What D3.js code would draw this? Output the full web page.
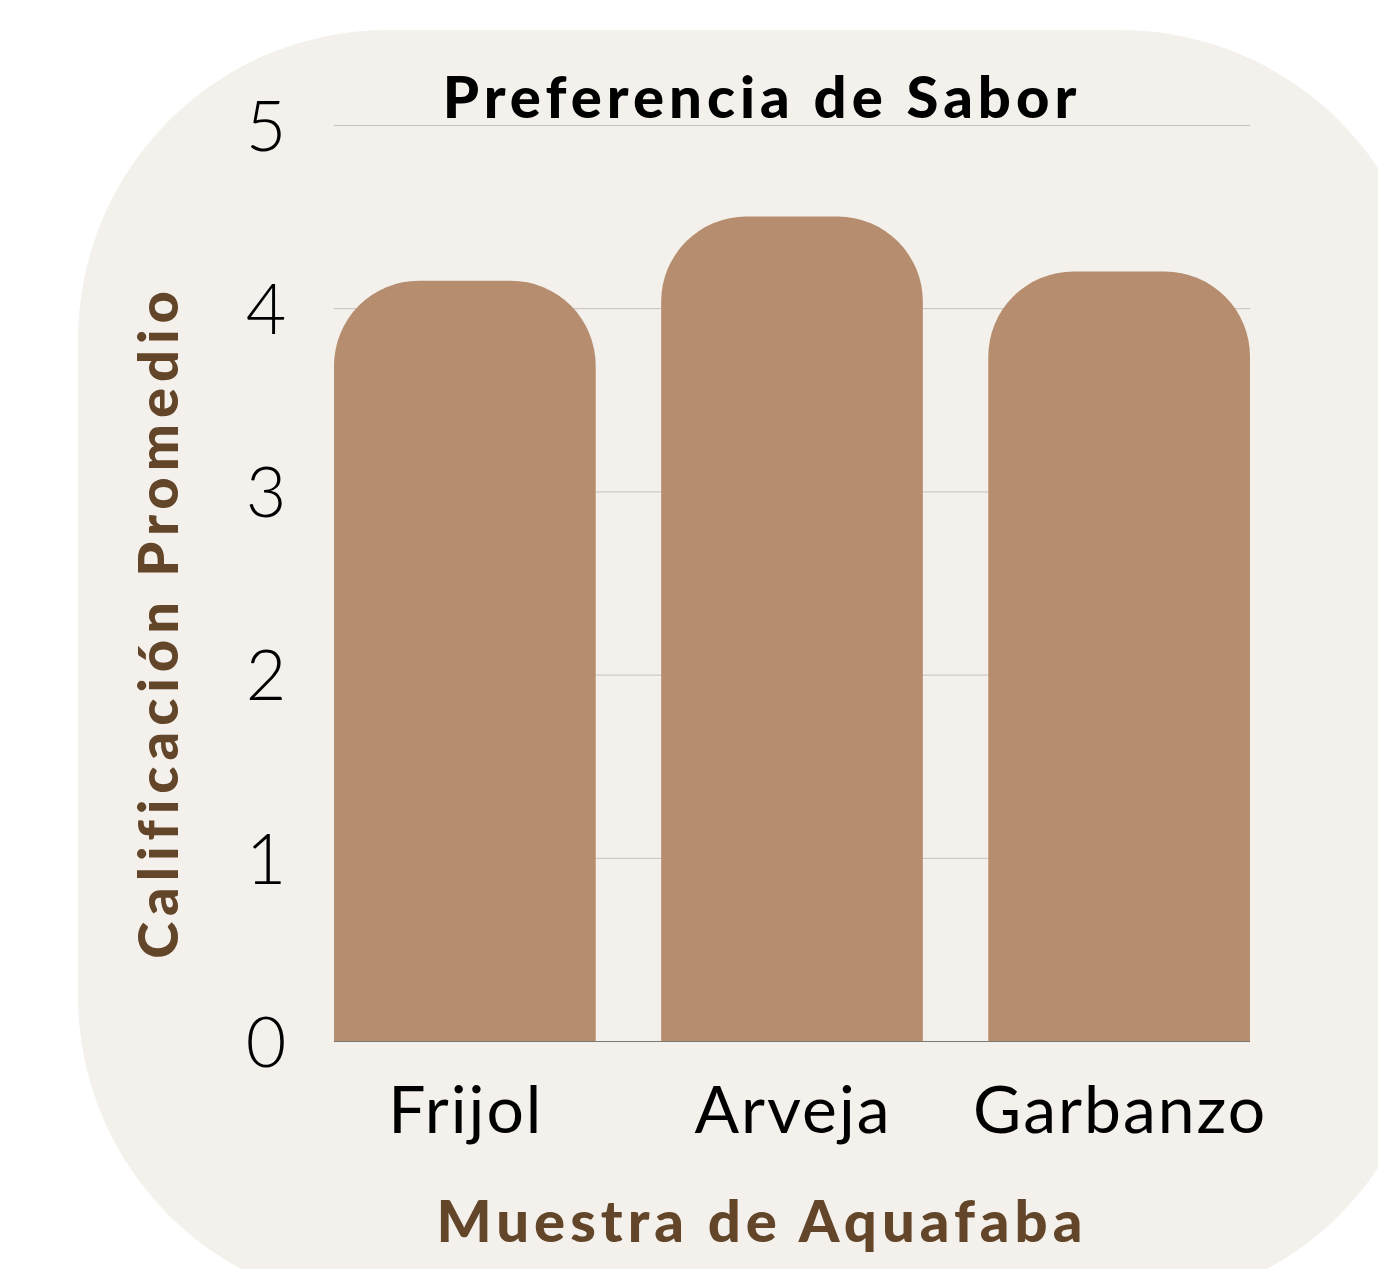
<!DOCTYPE html>
<html>
<head>
<meta charset="utf-8">
<script src="https://cdn.jsdelivr.net/npm/d3@7"></script>
<style>
  html, body { margin: 0; padding: 0; background: #fff; }
  svg { display: block; }
</style>
</head>
<body>
<svg id="chart"></svg>
<script>
(function () {

  var width = 1378, height = 1269;

  // data
  var categories = ['Frijol', 'Arveja', 'Garbanzo'];
  var values = [4.15, 4.50, 4.20];
  var yTicks = [0, 1, 2, 3, 4, 5];

  var svg = d3.select('#chart')
    .attr('width', width)
    .attr('height', height);

  // card background
  svg.append('rect')
    .attr('x', 78).attr('y', 30)
    .attr('width', 1352).attr('height', 1276)
    .attr('rx', 310).attr('ry', 310)
    .attr('fill', '#f4f1ec');

  var margin = { left: 334, right: 128, top: 125, bottom: 228 };

  var x = d3.scaleBand()
    .domain(categories)
    .range([margin.left, width - margin.right])
    .paddingInner(0.2)
    .paddingOuter(0);

  var y = d3.scaleLinear()
    .domain([0, 5])
    .range([height - margin.bottom, margin.top]);

  // gridlines
  var grid = svg.append('g')
    .attr('transform', 'translate(' + margin.left + ',0)')
    .call(d3.axisLeft(y).tickValues(yTicks.slice(1))
      .tickSize(-(width - margin.right - margin.left)).tickFormat(''));
  grid.select('.domain').remove();
  grid.selectAll('line').attr('stroke', '#c4c0ba').attr('stroke-width', 1);

  // baseline
  svg.append('line')
    .attr('x1', margin.left).attr('x2', width - margin.right)
    .attr('y1', y(0) + 0.5).attr('y2', y(0) + 0.5)
    .attr('stroke', '#7a7875').attr('stroke-width', 1);

  // bars with rounded tops
  var r = 85;
  function barPath(d, i) {
    var x0 = x(categories[i]), w = x.bandwidth();
    var top = y(d), bot = y(0);
    return 'M' + x0 + ',' + bot +
      'V' + (top + r) +
      'A' + r + ',' + r + ' 0 0 1 ' + (x0 + r) + ',' + top +
      'H' + (x0 + w - r) +
      'A' + r + ',' + r + ' 0 0 1 ' + (x0 + w) + ',' + (top + r) +
      'V' + bot + 'Z';
  }

  svg.selectAll('.bar')
    .data(values)
    .join('path')
    .attr('class', 'bar')
    .attr('d', barPath)
    .attr('fill', '#b68e6f');

  // y tick labels
  var yAxis = svg.append('g')
    .attr('transform', 'translate(266,0)')
    .call(d3.axisLeft(y).tickValues(yTicks).tickFormat(d3.format('d'))
      .tickSize(0).tickPadding(0));
  yAxis.select('.domain').remove();
  yAxis.selectAll('text')
    .attr('text-anchor', 'middle')
    .attr('x', 0)
    .attr('dy', '0.36em')
    .style('font-family', 'Lato, sans-serif')
    .style('font-size', '70px')
    .style('font-weight', 300)
    .attr('fill', '#000');

  // x tick labels
  var xAxis = svg.append('g')
    .attr('transform', 'translate(0,' + y(0) + ')')
    .call(d3.axisBottom(x).tickSize(0).tickPadding(0));
  xAxis.select('.domain').remove();
  xAxis.selectAll('text')
    .attr('y', 92)
    .attr('dy', 0)
    .attr('x', 1)
    .style('font-family', 'Lato, sans-serif')
    .style('font-size', '66px')
    .style('font-weight', 400)
    .style('letter-spacing', '2px')
    .attr('fill', '#000');

  // title
  svg.append('text')
    .attr('x', 762).attr('y', 118)
    .attr('text-anchor', 'middle')
    .style('font-family', 'Lato, sans-serif')
    .style('font-size', '58px')
    .style('font-weight', 900)
    .style('letter-spacing', '5px')
    .attr('fill', '#000')
    .text('Preferencia de Sabor');

  // axis titles
  svg.append('text')
    .attr('x', 762).attr('y', 1242)
    .attr('text-anchor', 'middle')
    .style('font-family', 'Lato, sans-serif')
    .style('font-size', '58px')
    .style('font-weight', 900)
    .style('letter-spacing', '5px')
    .attr('fill', '#63462a')
    .text('Muestra de Aquafaba');

  svg.append('text')
    .attr('transform', 'translate(178,622) rotate(-90)')
    .attr('text-anchor', 'middle')
    .style('font-family', 'Lato, sans-serif')
    .style('font-size', '56px')
    .style('font-weight', 900)
    .style('letter-spacing', '6px')
    .attr('fill', '#63462a')
    .text('Calificación Promedio');

})();
</script>
</body>
</html>
